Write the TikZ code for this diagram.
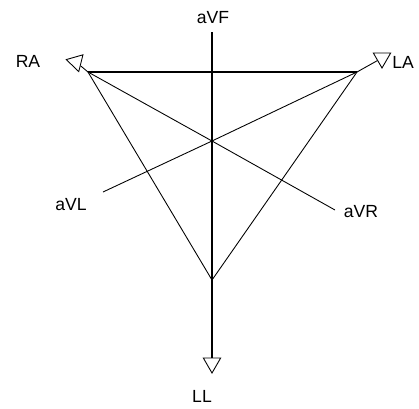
\documentclass[tikz,border=0pt]{standalone}
\usepackage{fontspec}
\setmainfont{Liberation Sans}
\usetikzlibrary{shapes.geometric}

\tikzset{
  electrode/.style={draw,regular polygon,regular polygon sides=3,minimum size=0.4cm,inner sep=0pt,line width=0.5pt},
  lead/.style={line width=0.5pt},
  axis/.style={line width=0.8pt},
  lbl/.style={inner sep=0pt,font=\fontsize{10}{12}\selectfont}
}

\begin{document}
\begin{tikzpicture}
            \useasboundingbox (-4.24,2.82) rectangle (4.14,-5.34);
            % vertices of the triangle
            \coordinate (RAv) at (-2.48,1.38);
            \coordinate (LAv) at (2.9,1.38);
            \coordinate (LLv) at (0,-2.78);
            \coordinate (O) at (0,0);
            % free ends of the axes
            \coordinate (top) at (0,2.18);
            \coordinate (aVLend) at (-2.18,-1.02);
            \coordinate (aVRend) at (2.46,-1.38);
            % electrodes
            \node [electrode,shape border rotate=76] (RAe) at (-2.72,1.58) {};
            \node [electrode,shape border rotate=180] (LAe) at (3.4,1.66) {};
            \node [electrode,shape border rotate=180] (LLe) at (0,-4.44) {};
            \draw [lead] (RAv) -- (RAe);
            \draw [lead] (LAv) -- (LAe);
            \draw [axis] (top) -- (LLe);
            \draw [axis] (RAv) -- (LAv);
            \draw [lead] (RAv) -- (LLv) -- (LAv);
            \draw [lead] (RAv) -- (O) -- (aVRend);
            \draw [lead] (LAv) -- (O) -- (aVLend);
            % labels
            \node [lbl] (RA) at (-3.68,1.6) {RA};
            \node [lbl] (LA) at (3.82,1.58) {LA};
            \node [lbl] (aVF) at (0.02,2.46) {aVF};
            \node [lbl] (aVL) at (-2.82,-1.28) {aVL};
            \node [lbl] (aVR) at (2.98,-1.42) {aVR};
            \node [lbl] (LL) at (-0.2,-5.1) {LL};
        \end{tikzpicture}
\end{document}
